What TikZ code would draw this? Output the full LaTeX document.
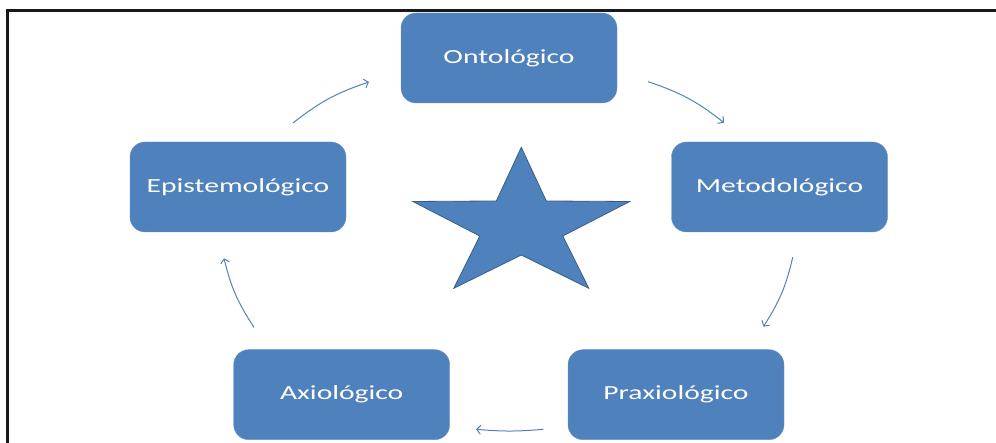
\documentclass[tikz,border=0pt]{standalone}
\usepackage{fontspec}
\setmainfont[FakeStretch=1.48]{Carlito}
\usetikzlibrary{arrows.meta}
\definecolor{azul}{HTML}{4F81BD}
\definecolor{azuloscuro}{HTML}{385D8A}
\tikzset{
	caja/.style={rectangle,rounded corners=15pt,fill=azul,draw=azul!85,text=white,minimum width=216pt,minimum height=90pt,font=\fontsize{20}{24}\selectfont},
	flecha/.style={draw=azul,line width=1pt,-{Straight Barb[length=4pt,width=9pt]},bend left=10}
}

\begin{document}
\begin{tikzpicture}[x=1pt,y=1pt]
	\useasboundingbox (0,0) rectangle (996,443);
	\draw[line width=2.4pt,black!90] (7.5,0) |- (996,432.5);

	\node[caja] (onto)  at (509,385)   {Ontológico};
	\node[caja] (meto)  at (779.5,256) {Metodológico};
	\node[caja] (praxi) at (676,48.3)  {Praxiológico};
	\node[caja] (axio)  at (341.7,48.3) {Axiológico};
	\node[caja] (epis)  at (238,256)   {Epistemológico};

	\coordinate (a1) at (648,361.3);
	\coordinate (a2) at (724,320.3);
	\coordinate (b1) at (792.7,185.7);
	\coordinate (b2) at (763.3,116.3);
	\coordinate (c1) at (543.3,13.7);
	\coordinate (c2) at (476,13.7);
	\coordinate (d1) at (254,115.7);
	\coordinate (d2) at (224,184.7);
	\coordinate (e1) at (293,320);
	\coordinate (e2) at (369,361);

	\path (a1) edge[flecha] (a2);
	\path (b1) edge[flecha] (b2);
	\path (c1) edge[flecha,bend left=5] (c2);
	\path (d1) edge[flecha] (d2);
	\path (e1) edge[flecha] (e2);

	\draw[fill=azul,draw=azuloscuro,line width=0.8pt] (521.3,295.7) -- (546.3,242) -- (629.8,241.5) -- (562.8,207) -- (588.8,154.7) -- (521.3,188) -- (453.8,154.7) -- (479.8,207) -- (412.8,241.5) -- (496.3,242) -- cycle;
\end{tikzpicture}
\end{document}
